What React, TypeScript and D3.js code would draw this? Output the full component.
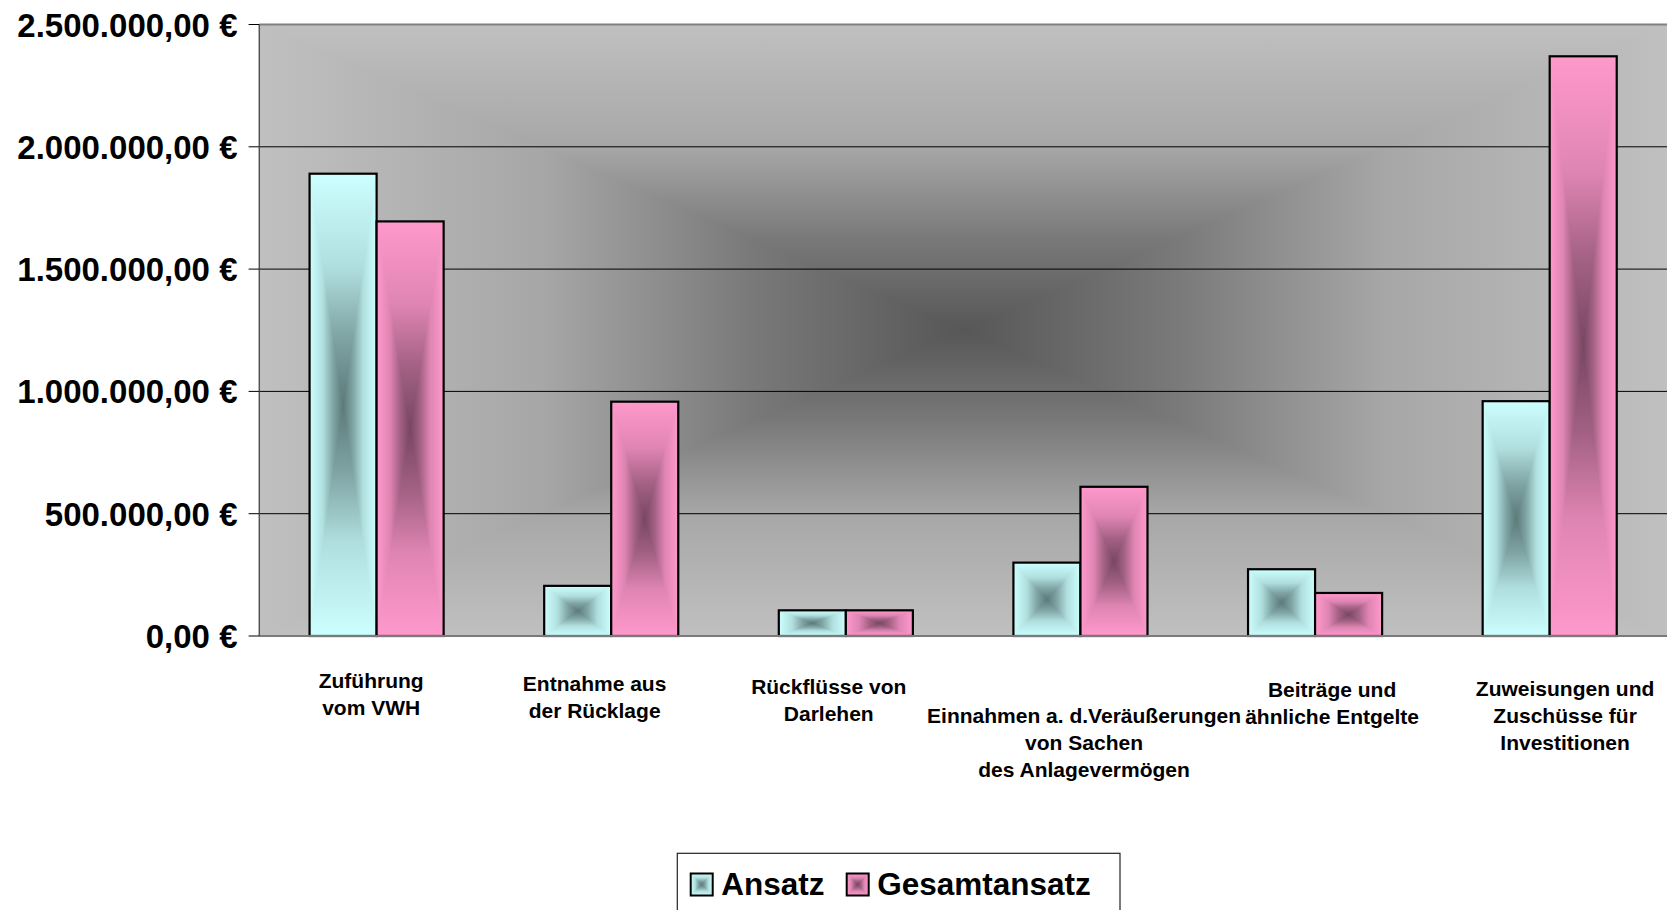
import React from "react";
import * as d3 from "d3";

const categories = [
  "Zuführung vom VWH",
  "Entnahme aus der Rücklage",
  "Rückflüsse von Darlehen",
  "Einnahmen a. d.Veräußerungen von Sachen des Anlagevermögen",
  "Beiträge und ähnliche Entgelte",
  "Zuweisungen und Zuschüsse für Investitionen",
];
const categoryLines = [
  ["Zuführung", "vom VWH"],
  ["Entnahme aus", "der Rücklage"],
  ["Rückflüsse von", "Darlehen"],
  ["Einnahmen a. d.Veräußerungen", "von Sachen", "des Anlagevermögen"],
  ["Beiträge und", "ähnliche Entgelte"],
  ["Zuweisungen und", "Zuschüsse für", "Investitionen"],
];
const seriesNames = ["Ansatz", "Gesamtansatz"];
const ansatz = [1890000, 205000, 105000, 300000, 273000, 960000];
const gesamtansatz = [1695000, 958000, 105000, 610000, 176000, 2370000];
const yTicks = [0, 500000, 1000000, 1500000, 2000000, 2500000];

// layout (not data)
const W = 1667;
const H = 910;
const PLOT = { left: 259.3, right: 1667, top: 24.5, bottom: 636 };
const labelDx = [-5.4, -16.6, -17.1, 3.6, 17, 15.4];
const labelBaseline = [688.3, 691, 693.7, 723.3, 696.7, 696];
const LINE_H = 26.8;
const FONT = "'Liberation Sans', Arial, Helvetica, sans-serif";

const seriesColors = [
  { light: "#ccffff", dark: "#5c7a7a", id: "cy" },
  { light: "#ff99cc", dark: "#784662", id: "pk" },
];

// easing of the "from center" gradient: [position, mix]
const easeStops: [number, number][] = [
  [0, 0],
  [0.4, 0.24],
  [0.7, 0.68],
  [1, 1],
];

const locale = d3.formatLocale({
  decimal: ",",
  thousands: ".",
  grouping: [3],
  currency: ["", " €"],
});
const fmt = locale.format(",.2f");

function GradDefs({ id, light, dark }: { id: string; light: string; dark: string }) {
  const mix = d3.interpolateRgb(light, dark);
  const stops = easeStops.map(([o, m]) => ({ o, c: mix(m) }));
  const hStops = [
    ...stops.map((s) => ({ o: s.o / 2, c: s.c })),
    ...stops
      .slice(0, -1)
      .reverse()
      .map((s) => ({ o: 1 - s.o / 2, c: s.c })),
  ];
  return (
    <>
      <linearGradient id={`${id}-h`} x1={0} y1={0} x2={1} y2={0}>
        {hStops.map((s, i) => (
          <stop key={i} offset={s.o} stopColor={s.c} />
        ))}
      </linearGradient>
      <linearGradient id={`${id}-t`} x1={0} y1={0} x2={0} y2={1}>
        {stops.map((s, i) => (
          <stop key={i} offset={s.o} stopColor={s.c} />
        ))}
      </linearGradient>
      <linearGradient id={`${id}-b`} x1={0} y1={1} x2={0} y2={0}>
        {stops.map((s, i) => (
          <stop key={i} offset={s.o} stopColor={s.c} />
        ))}
      </linearGradient>
    </>
  );
}

function RectGrad({ x, y, w, h, id }: { x: number; y: number; w: number; h: number; id: string }) {
  const cx = x + w / 2;
  const cy = y + h / 2;
  return (
    <g>
      <rect x={x} y={y} width={w} height={h} fill={`url(#${id}-h)`} />
      <polygon points={`${x},${y} ${x + w},${y} ${cx},${cy}`} fill={`url(#${id}-t)`} />
      <polygon points={`${x},${y + h} ${x + w},${y + h} ${cx},${cy}`} fill={`url(#${id}-b)`} />
    </g>
  );
}

export default function App() {
  const x = d3
    .scaleBand<string>()
    .domain(categories)
    .range([PLOT.left, PLOT.right])
    .paddingInner(1.5 / 3.5)
    .paddingOuter(0.75 / 3.5);
  const xs = d3.scaleBand<string>().domain(seriesNames).range([0, x.bandwidth()]);
  const y = d3.scaleLinear().domain([0, 2500000]).range([PLOT.bottom, PLOT.top]);
  const series = [ansatz, gesamtansatz];

  return (
    <svg
      width={W}
      height={H}
      style={{ position: "absolute", left: 0, top: 0, display: "block", background: "#fff" }}
      fontFamily={FONT}
    >
      <defs>
        <GradDefs id="bg" light="#c0c0c0" dark="#575757" />
        {seriesColors.map((c) => (
          <GradDefs key={c.id} id={c.id} light={c.light} dark={c.dark} />
        ))}
      </defs>

      {/* plot background */}
      <RectGrad
        x={PLOT.left}
        y={PLOT.top}
        w={PLOT.right - PLOT.left}
        h={PLOT.bottom - PLOT.top}
        id="bg"
      />

      {/* gridlines */}
      {yTicks
        .filter((t) => t > 0 && t < 2500000)
        .map((t) => (
          <line key={t} x1={PLOT.left} x2={PLOT.right} y1={y(t)} y2={y(t)} stroke="#000" strokeWidth={1} />
        ))}
      {/* plot border top */}
      <line x1={PLOT.left} x2={PLOT.right} y1={PLOT.top} y2={PLOT.top} stroke="#808080" strokeWidth={2} />

      {/* bars */}
      {categories.map((cat, i) => (
        <g key={cat}>
          {series.map((vals, s) => {
            const bx = (x(cat) as number) + (xs(seriesNames[s]) as number);
            const bw = xs.bandwidth();
            const by = y(vals[i]);
            const bh = y(0) - by;
            const c = seriesColors[s];
            return (
              <g key={s}>
                <RectGrad x={bx} y={by} w={bw} h={bh} id={c.id} />
                <rect x={bx} y={by} width={bw} height={bh} fill="none" stroke="#000" strokeWidth={2.2} />
              </g>
            );
          })}
        </g>
      ))}

      {/* axis line bottom */}
      <line x1={PLOT.left} x2={PLOT.right} y1={PLOT.bottom} y2={PLOT.bottom} stroke="#7a7a7a" strokeWidth={2} />
      {/* y axis */}
      <line x1={PLOT.left} x2={PLOT.left} y1={PLOT.top} y2={PLOT.bottom} stroke="#555" strokeWidth={1.5} />
      {yTicks.map((t) => (
        <g key={t}>
          <line x1={PLOT.left - 10.7} x2={PLOT.left} y1={y(t)} y2={y(t)} stroke="#000" strokeWidth={1} />
          <text
            x={237.5}
            y={y(t) + 12}
            textAnchor="end"
            fontSize={33}
            fontWeight="bold"
            fill="#000"
          >
            {fmt(t) + " €"}
          </text>
        </g>
      ))}

      {/* category labels */}
      {categories.map((cat, i) => {
        const cx = (x(cat) as number) + x.bandwidth() / 2 + labelDx[i];
        return (
          <text key={cat} textAnchor="middle" fontSize={21} fontWeight="bold" fill="#000">
            {categoryLines[i].map((ln, j) => (
              <tspan key={j} x={cx} y={labelBaseline[i] + j * LINE_H}>
                {ln}
              </tspan>
            ))}
          </text>
        );
      })}

      {/* legend */}
      <rect x={677.3} y={853.3} width={442.7} height={80} fill="#fff" stroke="#222" strokeWidth={1.2} />
      {seriesNames.map((name, s) => {
        const mx = s === 0 ? 690.7 : 846.7;
        const c = seriesColors[s];
        return (
          <g key={name}>
            <RectGrad x={mx} y={873.5} w={22} h={22} id={c.id} />
            <rect x={mx} y={873.5} width={22} height={22} fill="none" stroke="#000" strokeWidth={2} />
            <text x={mx + 30.5} y={895} fontSize={31.5} fontWeight="bold" fill="#000">
              {name}
            </text>
          </g>
        );
      })}
    </svg>
  );
}
